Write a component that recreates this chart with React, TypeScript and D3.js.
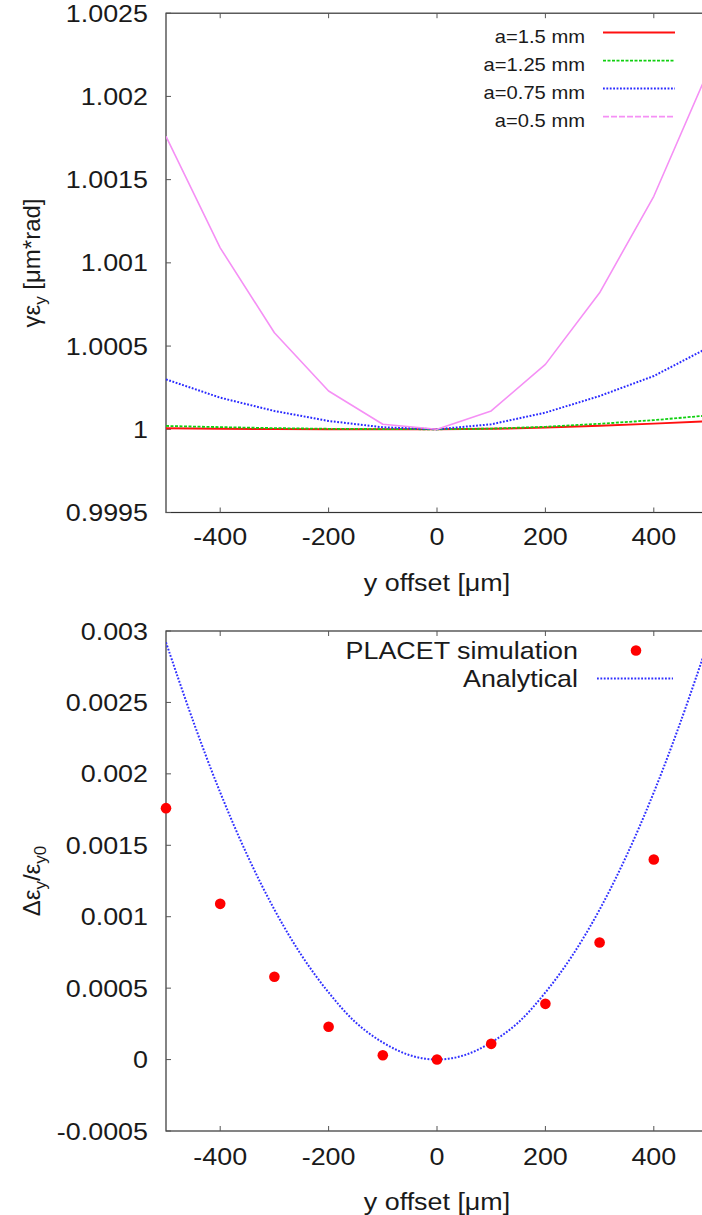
import React from "react";
import * as d3 from "d3";

// ---------- data ----------
const xOffsets = [-500, -400, -300, -200, -100, 0, 100, 200, 300, 400, 500];
const seriesA150 = [1.000006, 1.000003, 1.000001, 1.0, 1.0, 1.0, 1.000003, 1.00001, 1.000021, 1.000034, 1.000048];
const seriesA125 = [1.00002, 1.000013, 1.000007, 1.000003, 1.000001, 1.0, 1.000004, 1.000015, 1.000033, 1.000055, 1.000083];
const seriesA075 = [1.0003, 1.00019, 1.00011, 1.00005, 1.000012, 1.0, 1.00003, 1.0001, 1.0002, 1.00032, 1.00049];
const seriesA050 = [1.00176, 1.00109, 1.00058, 1.00023, 1.00003, 1.0, 1.00011, 1.00039, 1.00082, 1.0014, 1.00215];
const topLegend = ["a=1.5 mm", "a=1.25 mm", "a=0.75 mm", "a=0.5 mm"];

const placetX = [-500, -400, -300, -200, -100, 0, 100, 200, 300, 400, 500];
const placetY = [0.00176, 0.00109, 0.00058, 0.00023, 0.00003, 0.0, 0.00011, 0.00039, 0.00082, 0.0014, 0.00215];
const analyticX = [-500, -450, -400, -350, -300, -250, -200, -150, -100, -50, 0, 50, 100, 150, 200, 250, 300, 350, 400, 450, 500];
const analyticY = [0.00292, 0.00237, 0.00187, 0.00143, 0.00105, 0.00073, 0.00047, 0.00026, 0.00012, 0.00003, 0, 0.00003, 0.00012, 0.00026, 0.00047, 0.00073, 0.00105, 0.00143, 0.00187, 0.00237, 0.00292];
const bottomLegend = ["PLACET simulation", "Analytical"];

const xTicks = [-400, -200, 0, 200, 400];
const yTopTicks = [0.9995, 1.0, 1.0005, 1.001, 1.0015, 1.002, 1.0025];
const yTopTickLabels = ["0.9995", "1", "1.0005", "1.001", "1.0015", "1.002", "1.0025"];
const yBotTicks = [-0.0005, 0, 0.0005, 0.001, 0.0015, 0.002, 0.0025, 0.003];
const yBotTickLabels = ["-0.0005", "0", "0.0005", "0.001", "0.0015", "0.002", "0.0025", "0.003"];

// ---------- layout ----------
const W = 702, H = 1215;
const FONT = "'Liberation Sans', Arial, Helvetica, sans-serif";
const SX = 1.12;
const TXT = "#1a1a1a";
const FRAME = "#333";

const x = d3.scaleLinear().domain([-500, 500]).range([166, 708]);
const yTop = d3.scaleLinear().domain([0.9995, 1.0025]).range([512.5, 13.2]);
const yBot = d3.scaleLinear().domain([-0.0005, 0.003]).range([1131, 631]);

const styles = [
  { color: "#ff1010", dash: "none", width: 2 },
  { color: "#10d010", dash: "3,1.5", width: 1.8 },
  { color: "#2a2aff", dash: "1.8,1.6", width: 2 },
  { color: "#f590f5", dash: "none", width: 1.6 },
];

function Label({ x0, y0, anchor, size, children }: any) {
  return (
    <text transform={`translate(${x0},${y0}) scale(${SX},1)`} textAnchor={anchor} fontSize={size} fontFamily={FONT} fill={TXT}>
      {children}
    </text>
  );
}

function Frame({ y, top, bottom }: any) {
  const l = x.range()[0], r = x.range()[1];
  return (
    <g>
      <rect x={l} y={y(top)} width={r - l} height={y(bottom) - y(top)} fill="none" stroke={FRAME} strokeWidth={1.2} />
      {xTicks.map((t) => (
        <g key={t}>
          <line x1={x(t)} x2={x(t)} y1={y(bottom)} y2={y(bottom) - 5} stroke="#555" strokeWidth={1} />
          <line x1={x(t)} x2={x(t)} y1={y(top)} y2={y(top) + 5} stroke="#555" strokeWidth={1} />
        </g>
      ))}
    </g>
  );
}

export default function App() {
  const topSeries = [seriesA150, seriesA125, seriesA075, seriesA050];
  const lineTop = d3.line<number>().x((_, i) => x(xOffsets[i])).y((v) => yTop(v));
  const lineAn = d3
    .line<number>()
    .x((_, i) => x(analyticX[i]))
    .y((v) => yBot(v))
    .curve(d3.curveCatmullRom);

  return (
    <svg width={W} height={H} style={{ position: "absolute", left: 0, top: 0, background: "#fff" }}>
      <defs>
        <clipPath id="clipTop">
          <rect x={166} y={13.2} width={542} height={499.3} />
        </clipPath>
        <clipPath id="clipBot">
          <rect x={166} y={631} width={542} height={500} />
        </clipPath>
      </defs>
      <rect x={0} y={0} width={W} height={H} fill="#fff" />

      {/* ---------- TOP CHART ---------- */}
      <Frame y={yTop} top={1.0025} bottom={0.9995} />
      {yTopTicks.map((t, i) => (
        <g key={t}>
          <line x1={166} x2={171} y1={yTop(t)} y2={yTop(t)} stroke="#555" />
          <Label x0={148} y0={yTop(t) + 8.6} anchor="end" size={24}>{yTopTickLabels[i]}</Label>
        </g>
      ))}
      {xTicks.map((t) => (
        <Label key={t} x0={x(t)} y0={545} anchor="middle" size={24}>{t}</Label>
      ))}
      <Label x0={437} y0={591} anchor="middle" size={24}>y offset [μm]</Label>
      <text transform="translate(40,263) rotate(-90)" textAnchor="middle" fontSize={24} fontFamily={FONT} fill={TXT}>
        γε<tspan dy={6} fontSize={17}>y</tspan><tspan dy={-6}> [μm*rad]</tspan>
      </text>

      <g clipPath="url(#clipTop)">
        {topSeries.map((s, i) => (
          <path key={i} d={lineTop(s) || ""} fill="none" stroke={styles[i].color} strokeWidth={styles[i].width}
            strokeDasharray={styles[i].dash} strokeLinejoin="round" />
        ))}
      </g>

      {topLegend.map((name, i) => {
        const base = 43 + i * 28;
        const st = styles[i];
        return (
          <g key={name}>
            <Label x0={585} y0={base} anchor="end" size={18}>{name}</Label>
            <line x1={603} x2={675} y1={base - 10.4} y2={base - 10.4} stroke={st.color} strokeWidth={st.width}
              strokeDasharray={i === 3 ? "6,2" : st.dash} />
          </g>
        );
      })}

      {/* ---------- BOTTOM CHART ---------- */}
      <Frame y={yBot} top={0.003} bottom={-0.0005} />
      {yBotTicks.map((t, i) => (
        <g key={t}>
          <line x1={166} x2={171} y1={yBot(t)} y2={yBot(t)} stroke="#555" />
          <Label x0={148} y0={yBot(t) + 8.6} anchor="end" size={24}>{yBotTickLabels[i]}</Label>
        </g>
      ))}
      {xTicks.map((t) => (
        <Label key={t} x0={x(t)} y0={1165} anchor="middle" size={24}>{t}</Label>
      ))}
      <Label x0={437} y0={1210} anchor="middle" size={24}>y offset [μm]</Label>
      <text transform="translate(40,881) rotate(-90)" textAnchor="middle" fontSize={24} fontFamily={FONT} fill={TXT}>
        Δε<tspan dy={6} fontSize={17}>y</tspan><tspan dy={-6}>/ε</tspan><tspan dy={6} fontSize={17}>y0</tspan>
      </text>

      <g clipPath="url(#clipBot)">
        <path d={lineAn(analyticY) || ""} fill="none" stroke="#3030ff" strokeWidth={2} strokeDasharray="1.8,1.6" />
      </g>
      <g>
        {placetX.map((px, i) => {
          const cx = x(px);
          if (cx > W + 6) return null;
          return <circle key={px} cx={cx} cy={yBot(placetY[i])} r={5.3} fill="#ff0000" />;
        })}
      </g>

      <Label x0={578} y0={659} anchor="end" size={24}>{bottomLegend[0]}</Label>
      <circle cx={636} cy={650.5} r={5.3} fill="#ff0000" />
      <Label x0={578} y0={687} anchor="end" size={24}>{bottomLegend[1]}</Label>
      <line x1={597} x2={673} y1={678.5} y2={678.5} stroke="#3030ff" strokeWidth={2} strokeDasharray="1.8,1.6" />
    </svg>
  );
}
